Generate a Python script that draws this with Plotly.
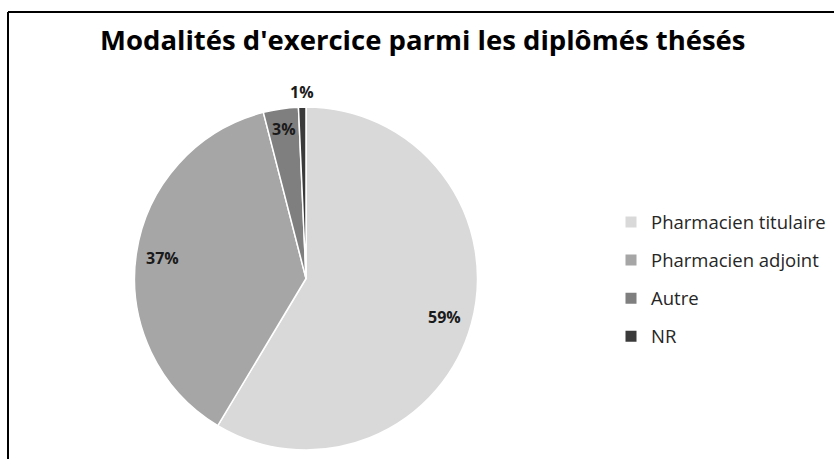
import math
import plotly.graph_objects as go

# ---- data ----
title_text = "Modalités d'exercice parmi les diplômés thésés"
categories = ["Pharmacien titulaire", "Pharmacien adjoint", "Autre", "NR"]
shares = [58.6, 37.4, 3.3, 0.7]

# ---- style ----
colors = ["#d9d9d9", "#a6a6a6", "#7f7f7f", "#3a3a3a"]
W, H = 834, 459
font_family = "'Open Sans', Lato, sans-serif"
pie_cx, pie_cy, pie_r = 306, 278.5, 171.5          # pixels
label_radius_frac = [0.84, 0.845, 0.88, 1.09]       # where each % label sits

fig = go.Figure()

fig.add_trace(go.Pie(
    labels=categories,
    values=shares,
    marker=dict(colors=colors, line=dict(color="white", width=1.5)),
    sort=False,
    direction="clockwise",
    rotation=0,
    textinfo="none",
    hoverinfo="label+percent",
    showlegend=False,
    domain=dict(x=[(pie_cx - pie_r) / W, (pie_cx + pie_r) / W],
                y=[1 - (pie_cy + pie_r) / H, 1 - (pie_cy - pie_r) / H]),
))

# legend proxies (square markers)
for name, col in zip(categories, colors):
    fig.add_trace(go.Scatter(
        x=[None], y=[None], mode="markers", name=name,
        legendgroup=name,
        marker=dict(symbol="square", size=11, color=col),
        showlegend=True,
    ))

# percentage labels derived from the values
total = sum(shares)
cum = 0.0
annotations = []
for i, v in enumerate(shares):
    frac = v / total
    mid = (cum + frac / 2) * 2 * math.pi
    cum += frac
    rr = pie_r * label_radius_frac[i]
    px = pie_cx + rr * math.sin(mid)
    py = pie_cy - rr * math.cos(mid)
    annotations.append(dict(
        x=px / W, y=1 - py / H, xref="paper", yref="paper",
        text=f"<b>{round(v / total * 100)}%</b>", showarrow=False,
        font=dict(family=font_family, size=16, color="#1a1a1a"),
        xanchor="center", yanchor="middle",
    ))

fig.update_layout(
    width=W, height=H,
    margin=dict(l=0, r=0, t=0, b=0, autoexpand=False),
    paper_bgcolor="white", plot_bgcolor="white",
    title=dict(text=f"<b>{title_text}</b>", x=0.507, xanchor="center",
               y=1 - 40 / H, yanchor="middle",
               font=dict(family=font_family, size=27.5, color="black")),
    xaxis=dict(visible=False), yaxis=dict(visible=False),
    legend=dict(x=611 / W, xanchor="left", y=1 - 279.5 / H, yanchor="middle",
                font=dict(family=font_family, size=18.5, color="#262626"),
                tracegroupgap=11, itemwidth=30, bgcolor="rgba(0,0,0,0)"),
    annotations=annotations,
    shapes=[
        dict(type="line", xref="paper", yref="paper",
             x0=8 / W, x1=8 / W, y0=-0.05, y1=1 - 12 / H,
             line=dict(color="black", width=2)),
        dict(type="line", xref="paper", yref="paper",
             x0=8 / W, x1=1.05, y0=1 - 12 / H, y1=1 - 12 / H,
             line=dict(color="black", width=2)),
    ],
)

fig.write_html("out.html",
               config={"displayModeBar": False},
               post_script="document.body.style.margin='0';document.body.style.overflow='hidden';")
